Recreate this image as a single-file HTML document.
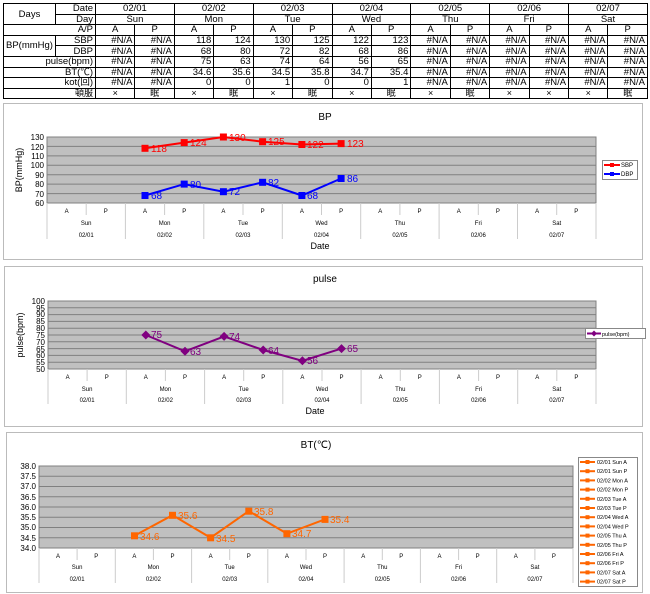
<!DOCTYPE html>
<html><head><meta charset="utf-8"><style>
body{margin:0;background:#fff;width:650px;height:594px;overflow:hidden;font-family:"Liberation Sans","Noto Sans CJK JP",sans-serif;}
table{position:absolute;left:3px;top:3px;width:644px;border-collapse:collapse;table-layout:fixed;font-size:9.5px;}
td{border:1px solid #000;height:10.6px;padding:0 2px;line-height:9px;white-space:nowrap;overflow:hidden;box-sizing:border-box;}
.c{text-align:center}.r{text-align:right}
.n{padding:0 1px;}
.j{font-size:9px;}
svg{position:absolute;left:0;top:0}
</style></head><body>
<table>
<colgroup><col style="width:52px"><col style="width:40px">
<col span="14" style="width:39.43px"></colgroup>
<tr><td class="c" rowspan="2">Days</td><td class="r">Date</td><td class="c" colspan="2">02/01</td><td class="c" colspan="2">02/02</td><td class="c" colspan="2">02/03</td><td class="c" colspan="2">02/04</td><td class="c" colspan="2">02/05</td><td class="c" colspan="2">02/06</td><td class="c" colspan="2">02/07</td></tr>
<tr><td class="r">Day</td><td class="c" colspan="2">Sun</td><td class="c" colspan="2">Mon</td><td class="c" colspan="2">Tue</td><td class="c" colspan="2">Wed</td><td class="c" colspan="2">Thu</td><td class="c" colspan="2">Fri</td><td class="c" colspan="2">Sat</td></tr>
<tr><td colspan="2" class="r">A/P</td><td class="c">A</td><td class="c">P</td><td class="c">A</td><td class="c">P</td><td class="c">A</td><td class="c">P</td><td class="c">A</td><td class="c">P</td><td class="c">A</td><td class="c">P</td><td class="c">A</td><td class="c">P</td><td class="c">A</td><td class="c">P</td></tr>
<tr><td rowspan="2" class="c n">BP(mmHg)</td><td class="r">SBP</td><td class="r">#N/A</td><td class="r">#N/A</td><td class="r">118</td><td class="r">124</td><td class="r">130</td><td class="r">125</td><td class="r">122</td><td class="r">123</td><td class="r">#N/A</td><td class="r">#N/A</td><td class="r">#N/A</td><td class="r">#N/A</td><td class="r">#N/A</td><td class="r">#N/A</td></tr>
<tr><td class="r">DBP</td><td class="r">#N/A</td><td class="r">#N/A</td><td class="r">68</td><td class="r">80</td><td class="r">72</td><td class="r">82</td><td class="r">68</td><td class="r">86</td><td class="r">#N/A</td><td class="r">#N/A</td><td class="r">#N/A</td><td class="r">#N/A</td><td class="r">#N/A</td><td class="r">#N/A</td></tr>
<tr><td colspan="2" class="r">pulse(bpm)</td><td class="r">#N/A</td><td class="r">#N/A</td><td class="r">75</td><td class="r">63</td><td class="r">74</td><td class="r">64</td><td class="r">56</td><td class="r">65</td><td class="r">#N/A</td><td class="r">#N/A</td><td class="r">#N/A</td><td class="r">#N/A</td><td class="r">#N/A</td><td class="r">#N/A</td></tr>
<tr><td colspan="2" class="r">BT(℃)</td><td class="r">#N/A</td><td class="r">#N/A</td><td class="r">34.6</td><td class="r">35.6</td><td class="r">34.5</td><td class="r">35.8</td><td class="r">34.7</td><td class="r">35.4</td><td class="r">#N/A</td><td class="r">#N/A</td><td class="r">#N/A</td><td class="r">#N/A</td><td class="r">#N/A</td><td class="r">#N/A</td></tr>
<tr><td colspan="2" class="r">kot(回)</td><td class="r">#N/A</td><td class="r">#N/A</td><td class="r">0</td><td class="r">0</td><td class="r">1</td><td class="r">0</td><td class="r">0</td><td class="r">1</td><td class="r">#N/A</td><td class="r">#N/A</td><td class="r">#N/A</td><td class="r">#N/A</td><td class="r">#N/A</td><td class="r">#N/A</td></tr>
<tr class="j"><td colspan="2" class="r">頓服</td><td class="c">×</td><td class="c">眠</td><td class="c">×</td><td class="c">眠</td><td class="c">×</td><td class="c">眠</td><td class="c">×</td><td class="c">眠</td><td class="c">×</td><td class="c">眠</td><td class="c">×</td><td class="c">×</td><td class="c">×</td><td class="c">眠</td></tr>
</table>

<svg width="650" height="594" font-family="Liberation Sans, sans-serif">
<!-- Chart 1 -->
<rect x="3.5" y="103.5" width="639" height="156" fill="#fff" stroke="#bbb"/>
<text x="325" y="120" font-size="10" text-anchor="middle">BP</text>
<rect x="47" y="137" width="549" height="66" fill="#c0c0c0" stroke="#808080"/>
<g stroke="#808080" stroke-width="1">
<line x1="47" x2="596" y1="193.6" y2="193.6"/><line x1="47" x2="596" y1="184.1" y2="184.1"/><line x1="47" x2="596" y1="174.7" y2="174.7"/><line x1="47" x2="596" y1="165.3" y2="165.3"/><line x1="47" x2="596" y1="155.9" y2="155.9"/><line x1="47" x2="596" y1="146.4" y2="146.4"/>
</g>
<g font-size="8" text-anchor="end">
<text x="44" y="140">130</text><text x="44" y="150">120</text><text x="44" y="159">110</text><text x="44" y="168">100</text><text x="44" y="178">90</text><text x="44" y="187">80</text><text x="44" y="197">70</text><text x="44" y="206">60</text>
</g>
<text transform="translate(22,170) rotate(-90)" font-size="9" text-anchor="middle">BP(mmHg)</text>
<g stroke="#ccc">
<line x1="47" x2="47" y1="203" y2="239"/><line x1="125.4" x2="125.4" y1="203" y2="239"/><line x1="203.8" x2="203.8" y1="203" y2="239"/><line x1="282.3" x2="282.3" y1="203" y2="239"/><line x1="360.7" x2="360.7" y1="203" y2="239"/><line x1="439.1" x2="439.1" y1="203" y2="239"/><line x1="517.5" x2="517.5" y1="203" y2="239"/><line x1="596" x2="596" y1="203" y2="239"/>
<line x1="86.2" x2="86.2" y1="203" y2="215"/><line x1="164.6" x2="164.6" y1="203" y2="215"/><line x1="243" x2="243" y1="203" y2="215"/><line x1="321.5" x2="321.5" y1="203" y2="215"/><line x1="399.9" x2="399.9" y1="203" y2="215"/><line x1="478.3" x2="478.3" y1="203" y2="215"/><line x1="556.7" x2="556.7" y1="203" y2="215"/>
</g>
<g font-size="6" text-anchor="middle">
<text x="66.6" y="213">A</text><text x="105.8" y="213">P</text><text x="145" y="213">A</text><text x="184.2" y="213">P</text><text x="223.4" y="213">A</text><text x="262.6" y="213">P</text><text x="301.9" y="213">A</text><text x="341.1" y="213">P</text><text x="380.3" y="213">A</text><text x="419.5" y="213">P</text><text x="458.7" y="213">A</text><text x="497.9" y="213">P</text><text x="537.1" y="213">A</text><text x="576.3" y="213">P</text>
<text x="86.2" y="225">Sun</text><text x="164.6" y="225">Mon</text><text x="243" y="225">Tue</text><text x="321.5" y="225">Wed</text><text x="399.9" y="225">Thu</text><text x="478.3" y="225">Fri</text><text x="556.7" y="225">Sat</text>
<text x="86.2" y="237">02/01</text><text x="164.6" y="237">02/02</text><text x="243" y="237">02/03</text><text x="321.5" y="237">02/04</text><text x="399.9" y="237">02/05</text><text x="478.3" y="237">02/06</text><text x="556.7" y="237">02/07</text>
</g>
<text x="320" y="249" font-size="9" text-anchor="middle">Date</text>
<polyline points="145,148.3 184.2,142.6 223.4,137 262.6,141.7 301.9,144.5 341.1,143.6" fill="none" stroke="#f00" stroke-width="2"/>
<g fill="#f00"><rect x="141.5" y="144.8" width="7" height="7"/><rect x="180.7" y="139.1" width="7" height="7"/><rect x="219.9" y="133.5" width="7" height="7"/><rect x="259.1" y="138.2" width="7" height="7"/><rect x="298.4" y="141" width="7" height="7"/><rect x="337.6" y="140.1" width="7" height="7"/></g>
<g fill="#f00" font-size="10"><text x="151" y="152">118</text><text x="190" y="146">124</text><text x="229" y="141">130</text><text x="268" y="145">125</text><text x="307" y="148">122</text><text x="347" y="147">123</text></g>
<polyline points="145,195.5 184.2,184.1 223.4,191.7 262.6,182.3 301.9,195.5 341.1,178.5" fill="none" stroke="#00f" stroke-width="2"/>
<g fill="#00f"><rect x="141.5" y="192" width="7" height="7"/><rect x="180.7" y="180.6" width="7" height="7"/><rect x="219.9" y="188.2" width="7" height="7"/><rect x="259.1" y="178.8" width="7" height="7"/><rect x="298.4" y="192" width="7" height="7"/><rect x="337.6" y="175" width="7" height="7"/></g>
<g fill="#00f" font-size="10"><text x="151" y="199">68</text><text x="190" y="188">80</text><text x="229" y="195">72</text><text x="268" y="186">82</text><text x="307" y="199">68</text><text x="347" y="182">86</text></g>
<rect x="602.5" y="160.5" width="35" height="19" fill="#fff" stroke="#888"/>
<line x1="604" x2="620" y1="165" y2="165" stroke="#f00" stroke-width="2"/><rect x="610" y="163" width="4" height="4" fill="#f00"/>
<line x1="604" x2="620" y1="174" y2="174" stroke="#00f" stroke-width="2"/><rect x="610" y="172" width="4" height="4" fill="#00f"/>
<g font-size="6"><text x="621" y="167">SBP</text><text x="621" y="176">DBP</text></g>

<!-- Chart 2 -->
<rect x="4.5" y="266.5" width="638" height="160" fill="#fff" stroke="#bbb"/>
<text x="325" y="282" font-size="10" text-anchor="middle">pulse</text>
<rect x="48" y="301" width="548" height="68" fill="#c0c0c0" stroke="#808080"/>
<g stroke="#808080">
<line x1="48" x2="596" y1="362.2" y2="362.2"/><line x1="48" x2="596" y1="355.4" y2="355.4"/><line x1="48" x2="596" y1="348.6" y2="348.6"/><line x1="48" x2="596" y1="341.8" y2="341.8"/><line x1="48" x2="596" y1="335" y2="335"/><line x1="48" x2="596" y1="328.2" y2="328.2"/><line x1="48" x2="596" y1="321.4" y2="321.4"/><line x1="48" x2="596" y1="314.6" y2="314.6"/><line x1="48" x2="596" y1="307.8" y2="307.8"/>
</g>
<g font-size="8" text-anchor="end">
<text x="45" y="304">100</text><text x="45" y="311">95</text><text x="45" y="317">90</text><text x="45" y="324">85</text><text x="45" y="331">80</text><text x="45" y="338">75</text><text x="45" y="345">70</text><text x="45" y="352">65</text><text x="45" y="358">60</text><text x="45" y="365">55</text><text x="45" y="372">50</text>
</g>
<text transform="translate(23,335) rotate(-90)" font-size="9" text-anchor="middle">pulse(bpm)</text>
<g stroke="#ccc">
<line x1="48" x2="48" y1="369" y2="404"/><line x1="126.3" x2="126.3" y1="369" y2="404"/><line x1="204.6" x2="204.6" y1="369" y2="404"/><line x1="282.8" x2="282.8" y1="369" y2="404"/><line x1="361.1" x2="361.1" y1="369" y2="404"/><line x1="439.4" x2="439.4" y1="369" y2="404"/><line x1="517.7" x2="517.7" y1="369" y2="404"/><line x1="596" x2="596" y1="369" y2="404"/>
<line x1="87.1" x2="87.1" y1="369" y2="381"/><line x1="165.4" x2="165.4" y1="369" y2="381"/><line x1="243.7" x2="243.7" y1="369" y2="381"/><line x1="322" x2="322" y1="369" y2="381"/><line x1="400.3" x2="400.3" y1="369" y2="381"/><line x1="478.6" x2="478.6" y1="369" y2="381"/><line x1="556.8" x2="556.8" y1="369" y2="381"/>
</g>
<g font-size="6" text-anchor="middle">
<text x="67.6" y="379">A</text><text x="106.7" y="379">P</text><text x="145.8" y="379">A</text><text x="185" y="379">P</text><text x="224.1" y="379">A</text><text x="263.2" y="379">P</text><text x="302.4" y="379">A</text><text x="341.5" y="379">P</text><text x="380.6" y="379">A</text><text x="419.8" y="379">P</text><text x="458.9" y="379">A</text><text x="498" y="379">P</text><text x="537.2" y="379">A</text><text x="576.4" y="379">P</text>
<text x="87.1" y="391">Sun</text><text x="165.4" y="391">Mon</text><text x="243.7" y="391">Tue</text><text x="322" y="391">Wed</text><text x="400.3" y="391">Thu</text><text x="478.6" y="391">Fri</text><text x="556.8" y="391">Sat</text>
<text x="87.1" y="402">02/01</text><text x="165.4" y="402">02/02</text><text x="243.7" y="402">02/03</text><text x="322" y="402">02/04</text><text x="400.3" y="402">02/05</text><text x="478.6" y="402">02/06</text><text x="556.8" y="402">02/07</text>
</g>
<text x="315" y="414" font-size="9" text-anchor="middle">Date</text>
<polyline points="145.8,335 185,351.3 224.1,336.4 263.2,350 302.4,360.8 341.5,348.6" fill="none" stroke="#800080" stroke-width="2"/>
<g fill="#800080">
<path d="M145.8,330.5 l4.5,4.5 -4.5,4.5 -4.5,-4.5z"/><path d="M185,346.8 l4.5,4.5 -4.5,4.5 -4.5,-4.5z"/><path d="M224.1,331.9 l4.5,4.5 -4.5,4.5 -4.5,-4.5z"/><path d="M263.2,345.5 l4.5,4.5 -4.5,4.5 -4.5,-4.5z"/><path d="M302.4,356.3 l4.5,4.5 -4.5,4.5 -4.5,-4.5z"/><path d="M341.5,344.1 l4.5,4.5 -4.5,4.5 -4.5,-4.5z"/>
</g>
<g fill="#800080" font-size="10"><text x="151" y="338">75</text><text x="190" y="355">63</text><text x="229" y="340">74</text><text x="268" y="354">64</text><text x="307" y="364">56</text><text x="347" y="352">65</text></g>
<rect x="585.5" y="328.5" width="60" height="10" fill="#fff" stroke="#888"/>
<line x1="587" x2="601" y1="333.5" y2="333.5" stroke="#800080" stroke-width="2"/><path d="M594,330.5 l3,3 -3,3 -3,-3z" fill="#800080"/>
<text x="602" y="336" font-size="5.5">pulse(bpm)</text>

<!-- Chart 3 -->
<rect x="6.5" y="432.5" width="636" height="160" fill="#fff" stroke="#bbb"/>
<text x="316" y="448" font-size="10" text-anchor="middle">BT(℃)</text>
<rect x="39" y="466" width="534" height="82" fill="#c0c0c0" stroke="#808080"/>
<g stroke="#808080">
<line x1="39" x2="573" y1="476.25" y2="476.25"/><line x1="39" x2="573" y1="486.5" y2="486.5"/><line x1="39" x2="573" y1="496.75" y2="496.75"/><line x1="39" x2="573" y1="507" y2="507"/><line x1="39" x2="573" y1="517.25" y2="517.25"/><line x1="39" x2="573" y1="527.5" y2="527.5"/><line x1="39" x2="573" y1="537.75" y2="537.75"/>
</g>
<g font-size="8" text-anchor="end">
<text x="36" y="469">38.0</text><text x="36" y="479">37.5</text><text x="36" y="489">37.0</text><text x="36" y="500">36.5</text><text x="36" y="510">36.0</text><text x="36" y="520">35.5</text><text x="36" y="530">35.0</text><text x="36" y="541">34.5</text><text x="36" y="551">34.0</text>
</g>
<g stroke="#ccc">
<line x1="39" x2="39" y1="548" y2="583"/><line x1="115.3" x2="115.3" y1="548" y2="583"/><line x1="191.6" x2="191.6" y1="548" y2="583"/><line x1="267.8" x2="267.8" y1="548" y2="583"/><line x1="344.1" x2="344.1" y1="548" y2="583"/><line x1="420.4" x2="420.4" y1="548" y2="583"/><line x1="496.7" x2="496.7" y1="548" y2="583"/><line x1="573" x2="573" y1="548" y2="583"/>
<line x1="77.1" x2="77.1" y1="548" y2="560"/><line x1="153.4" x2="153.4" y1="548" y2="560"/><line x1="229.7" x2="229.7" y1="548" y2="560"/><line x1="306" x2="306" y1="548" y2="560"/><line x1="382.3" x2="382.3" y1="548" y2="560"/><line x1="458.6" x2="458.6" y1="548" y2="560"/><line x1="534.9" x2="534.9" y1="548" y2="560"/>
</g>
<g font-size="6" text-anchor="middle">
<text x="58" y="558">A</text><text x="96.2" y="558">P</text><text x="134.4" y="558">A</text><text x="172.5" y="558">P</text><text x="210.6" y="558">A</text><text x="248.8" y="558">P</text><text x="286.9" y="558">A</text><text x="325" y="558">P</text><text x="363.2" y="558">A</text><text x="401.3" y="558">P</text><text x="439.5" y="558">A</text><text x="477.6" y="558">P</text><text x="515.8" y="558">A</text><text x="553.9" y="558">P</text>
<text x="77.1" y="569">Sun</text><text x="153.4" y="569">Mon</text><text x="229.7" y="569">Tue</text><text x="306" y="569">Wed</text><text x="382.3" y="569">Thu</text><text x="458.6" y="569">Fri</text><text x="534.9" y="569">Sat</text>
<text x="77.1" y="581">02/01</text><text x="153.4" y="581">02/02</text><text x="229.7" y="581">02/03</text><text x="306" y="581">02/04</text><text x="382.3" y="581">02/05</text><text x="458.6" y="581">02/06</text><text x="534.9" y="581">02/07</text>
</g>
<polyline points="134.4,535.7 172.5,515.2 210.6,537.75 248.8,511.1 286.9,533.65 325,519.3" fill="none" stroke="#ff6600" stroke-width="2"/>
<g fill="#ff6600"><rect x="131" y="532.3" width="7" height="7"/><rect x="169" y="511.8" width="7" height="7"/><rect x="207.1" y="534.3" width="7" height="7"/><rect x="245.3" y="507.7" width="7" height="7"/><rect x="283.4" y="530.2" width="7" height="7"/><rect x="321.5" y="515.9" width="7" height="7"/></g>
<g fill="#ff6600" font-size="10"><text x="140" y="540">34.6</text><text x="178" y="519">35.6</text><text x="216" y="542">34.5</text><text x="254" y="515">35.8</text><text x="292" y="537">34.7</text><text x="330" y="523">35.4</text></g>
<rect x="578.5" y="457.5" width="59" height="129" fill="#fff" stroke="#888"/>
<g stroke="#ff6600" stroke-width="2">
<line x1="580" x2="595" y1="462" y2="462"/><line x1="580" x2="595" y1="471.2" y2="471.2"/><line x1="580" x2="595" y1="480.4" y2="480.4"/><line x1="580" x2="595" y1="489.6" y2="489.6"/><line x1="580" x2="595" y1="498.8" y2="498.8"/><line x1="580" x2="595" y1="508" y2="508"/><line x1="580" x2="595" y1="517.2" y2="517.2"/><line x1="580" x2="595" y1="526.4" y2="526.4"/><line x1="580" x2="595" y1="535.6" y2="535.6"/><line x1="580" x2="595" y1="544.8" y2="544.8"/><line x1="580" x2="595" y1="554" y2="554"/><line x1="580" x2="595" y1="563.2" y2="563.2"/><line x1="580" x2="595" y1="572.4" y2="572.4"/><line x1="580" x2="595" y1="581.6" y2="581.6"/>
</g>
<g fill="#ff6600">
<rect x="585.5" y="460" width="4" height="4"/><rect x="585.5" y="469.2" width="4" height="4"/><rect x="585.5" y="478.4" width="4" height="4"/><rect x="585.5" y="487.6" width="4" height="4"/><rect x="585.5" y="496.8" width="4" height="4"/><rect x="585.5" y="506" width="4" height="4"/><rect x="585.5" y="515.2" width="4" height="4"/><rect x="585.5" y="524.4" width="4" height="4"/><rect x="585.5" y="533.6" width="4" height="4"/><rect x="585.5" y="542.8" width="4" height="4"/><rect x="585.5" y="552" width="4" height="4"/><rect x="585.5" y="561.2" width="4" height="4"/><rect x="585.5" y="570.4" width="4" height="4"/><rect x="585.5" y="579.6" width="4" height="4"/>
</g>
<g font-size="5.5">
<text x="597" y="464">02/01 Sun A</text><text x="597" y="473.2">02/01 Sun P</text><text x="597" y="482.4">02/02 Mon A</text><text x="597" y="491.6">02/02 Mon P</text><text x="597" y="500.8">02/03 Tue A</text><text x="597" y="510">02/03 Tue P</text><text x="597" y="519.2">02/04 Wed A</text><text x="597" y="528.4">02/04 Wed P</text><text x="597" y="537.6">02/05 Thu A</text><text x="597" y="546.8">02/05 Thu P</text><text x="597" y="556">02/06 Fri A</text><text x="597" y="565.2">02/06 Fri P</text><text x="597" y="574.4">02/07 Sat A</text><text x="597" y="583.6">02/07 Sat P</text>
</g>
</svg>
</body></html>
